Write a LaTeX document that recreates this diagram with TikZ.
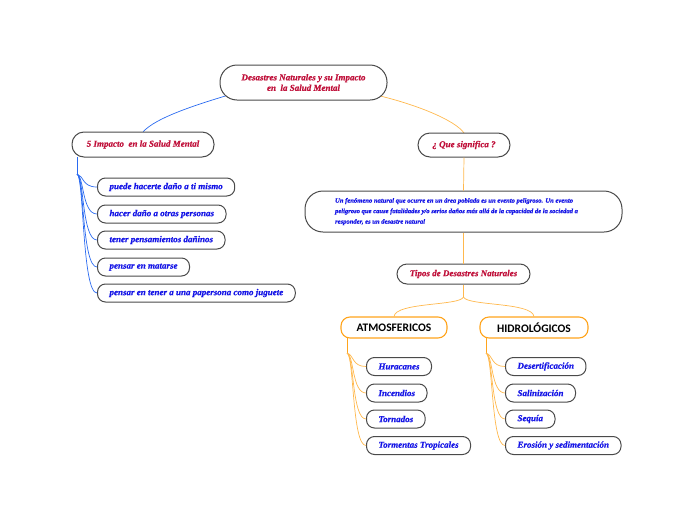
\documentclass[tikz,border=0pt]{standalone}
\usepackage{fontspec}
\setmainfont{Liberation Serif}
\newfontfamily\scrfam{Liberation Serif}[BoldItalicFeatures={FakeBold=0.6}]
\newcommand{\scr}{\scrfam\bfseries\itshape}
\newfontfamily\hdrfam{Carlito}
\newcommand{\hdr}{\hdrfam\bfseries}
\definecolor{crim}{HTML}{C0103A}
\definecolor{tblue}{HTML}{1414E6}
\definecolor{bgray}{HTML}{4A4A4A}
\definecolor{lblue}{HTML}{2A6AF0}
\definecolor{lorange}{HTML}{FFB84D}
\definecolor{borange}{HTML}{FFA41C}
\tikzset{
  box/.style={draw=bgray, line width=1pt, fill=white, rounded corners=8pt, inner xsep=12pt, inner ysep=0pt, minimum height=18pt},
  title/.style={font=\scr\fontsize{9}{10.5}\selectfont, text=crim},
  leaf/.style={box, anchor=west, font=\scr\fontsize{9}{10}\selectfont, text=tblue},
  cat/.style={draw=borange, line width=1.1pt, fill=white, rounded corners=9pt, minimum height=21pt, font=\hdr\fontsize{11.5}{13}\selectfont},
  bl/.style={draw=lblue, line width=0.7pt},
  ol/.style={draw=lorange, line width=0.7pt},
}
\begin{document}
\begin{tikzpicture}[x=1pt,y=-1pt]
\useasboundingbox (0,0) rectangle (697,520);
% connectors first (drawn beneath nodes)
\coordinate (rl) at (232,94);
\coordinate (rr) at (376,95);
\coordinate (impN) at (143,132);
\coordinate (queN) at (464,133);
\draw[bl] (rl) .. controls (195,105) and (155,118) .. (impN);
\draw[ol] (rr) .. controls (415,104) and (455,120) .. (queN);
% main nodes
\node[box, rounded corners=17pt, minimum width=167pt, minimum height=35pt, title, align=center] (root) at (303.5,82.5) {Desastres Naturales y su Impacto\\ en\ \ la Salud Mental};
\node[box, rounded corners=12pt, minimum width=142pt, minimum height=25pt, title] (imp) at (143,144.5) {5 Impacto\ \ en la Salud Mental};
\node[box, rounded corners=12pt, minimum width=92pt, minimum height=24pt, title] (que) at (464,145) {¿ Que significa ?};
\node[box, rounded corners=18pt, minimum width=317pt, minimum height=41pt] (def) at (463.5,211.5) {};
\node[align=left, inner sep=0pt, font=\scr\fontsize{6.6}{10.5}\selectfont, text=tblue] (deftxt) at (456.5,211.5) {Un fenómeno natural que ocurre en un área poblada es un evento peligroso. Un evento\\peligroso que cause fatalidades y/o serios daños más allá de la capacidad de la sociedad a\\responder, es un desastre natural};
\node[box, rounded corners=10pt, minimum width=133pt, minimum height=20pt, title] (tipos) at (463.5,274) {Tipos de Desastres Naturales};
\node[cat, minimum width=106pt] (atm) at (394,327.5) {ATMOSFERICOS};
\node[cat, minimum width=108pt] (hid) at (534,327.5) {HIDROLÓGICOS};
% left leaves
\node[leaf] (l1) at (97,187) {puede hacerte daño a ti mismo};
\node[leaf] (l2) at (97,214) {hacer daño a otras personas};
\node[leaf] (l3) at (97,240) {tener pensamientos dañinos};
\node[leaf] (l4) at (97,267) {pensar en matarse};
\node[leaf] (l5) at (97,293) {pensar en tener a una papersona como juguete};
% atmos leaves
\node[leaf] (a1) at (366,366.5) {Huracanes};
\node[leaf] (a2) at (366,393) {Incendios};
\node[leaf] (a3) at (366,419) {Tornados};
\node[leaf] (a4) at (366,445.5) {Tormentas Tropicales};
% hidro leaves
\node[leaf] (h1) at (505,366.5) {Desertificación};
\node[leaf] (h2) at (505,393) {Salinización};
\node[leaf] (h3) at (505,419) {Sequía};
\node[leaf] (h4) at (505,445.5) {Erosión y sedimentación};
% connectors
\draw[ol] (que.south) -- (def.north);
\draw[ol] (def.south) -- (tipos.north);
\coordinate (ts) at (463.5,297);
\draw[ol] (tipos.south) -- (ts);
\draw[ol] (ts) .. controls (460,306) and (396,302) .. (atm.north);
\draw[ol] (ts) .. controls (467,306) and (532,302) .. (hid.north);
% left branch
\coordinate (it) at (77,157);
\coordinate (ib) at (77,174);
\draw[draw=lblue, line width=1pt] (it) -- (ib);
\foreach \n in {l1,l2,l3,l4,l5}{
  \draw[bl] (ib) .. controls (84,176) and (82,0 |- \n.west) .. (\n.west);
}
% atmos branch
\coordinate (at) at (347,338);
\coordinate (ab) at (347,353);
\draw[draw=borange, line width=1pt] (at) -- (ab);
\foreach \n in {a1,a2,a3,a4}{
  \draw[ol] (ab) .. controls (354,355) and (352,0 |- \n.west) .. (\n.west);
}
% hidro branch
\coordinate (ht) at (486,338);
\coordinate (hb) at (486,353);
\draw[draw=borange, line width=1pt] (ht) -- (hb);
\foreach \n in {h1,h2,h3,h4}{
  \draw[ol] (hb) .. controls (493,355) and (491,0 |- \n.west) .. (\n.west);
}
\end{tikzpicture}
\end{document}
